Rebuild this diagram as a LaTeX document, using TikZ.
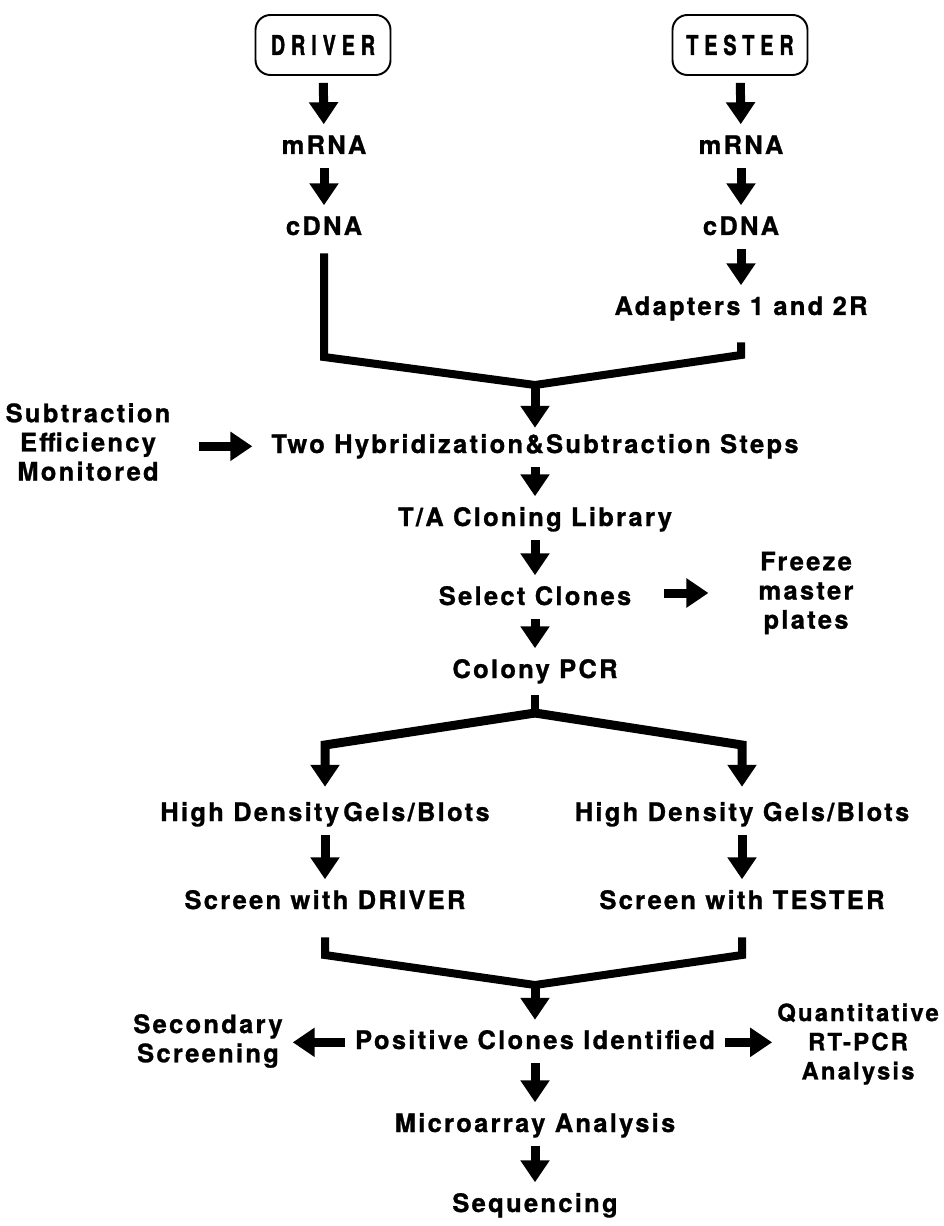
\documentclass[tikz,border=0pt]{standalone}
\usepackage{fontspec}
\newfontfamily\flowfont{TeX Gyre Heros}[LetterSpace=9, BoldFeatures={FakeBold=1}]
\newfontfamily\srcfont{TeX Gyre Heros}[LetterSpace=22, FakeStretch=0.72,
  BoldFeatures={FakeBold=1.5}]
\usetikzlibrary{arrows.meta}

\begin{document}
\begin{tikzpicture}[x=0.2mm, y=-0.2mm,
    font=\flowfont\bfseries\fontsize{14.5}{16.6}\selectfont,
    lbl/.style={inner sep=1pt, anchor=base, text height=10.6pt, text depth=3pt},
    blk/.style={inner sep=1pt, align=center},
    src/.style={draw, line width=1.1pt, rounded corners=3mm, minimum width=27mm,
      minimum height=12mm, font=\srcfont\bfseries\fontsize{15.5}{18}\selectfont},
    fat/.style={line width=1.8mm, -{Triangle[width=5.6mm,length=4.4mm]}},
    gap/.style={shorten <=1.4mm, shorten >=1.8mm},
    bar/.style={line width=1.6mm, line join=miter}]
    \useasboundingbox (0,0) rectangle (943,1226);
    % the two sources
    \node[src] (drv) at (323,45) {DRIVER};
    \node[src] (tst) at (740,45) {TESTER};
    \node[lbl] (dm) at (324,154) {mRNA};
    \node[lbl] (dc) at (324,235) {cDNA};
    \node[lbl] (tm) at (741,154) {mRNA};
    \node[lbl] (tc) at (741,235) {cDNA};
    \node[lbl] (adp) at (741,315) {Adapters 1 and 2R};
    \draw[fat, gap] (drv) -- (dm);
    \draw[fat, gap] (dm) -- (dc);
    \draw[fat, gap] (tst) -- (tm);
    \draw[fat, gap] (tm) -- (tc);
    \draw[fat, gap] (tc) -- (adp);
    % first merge
    \coordinate (ml) at (324,357);
    \coordinate (mj) at (535,385);
    \coordinate (mr) at (741,355);
    \draw[bar, shorten <=2.2mm, shorten >=4mm] (dc) -- (ml) -- (mj) -- (mr) -- (adp);
    % subtraction and cloning
    \node[lbl] (hyb) at (535,453) {Two Hybridization\&Subtraction Steps};
    \node[blk] (eff) at (88,442) {Subtraction\\Efficiency\\Monitored};
    \node[lbl] (tal) at (535,526) {T/A Cloning Library};
    \node[lbl] (sel) at (535,605) {Select Clones};
    \node[blk] (frz) at (806,593) {Freeze\\master\\plates};
    \node[lbl] (col) at (535,678) {Colony PCR};
    \draw[fat, shorten >=0.9mm] (mj) -- (hyb);
    \draw[fat, shorten <=5.4mm, shorten >=3.4mm] (hyb -| eff.east) -- (hyb);
    \draw[fat, gap] (hyb) -- (tal);
    \draw[fat, gap] (tal) -- (sel);
    \draw[fat, shorten <=6.2mm, shorten >=9.6mm] (frz -| sel.east) -- (frz);
    \draw[fat, gap] (sel) -- (col);
    % split into the two screens
    \coordinate (sp) at (535,713);
    \coordinate (sl) at (325,745);
    \coordinate (sr) at (742,745);
    \node[lbl] (hdl) at (325,821) {High Density\,Gels/Blots};
    \node[lbl] (hdr) at (742,821) {High Density Gels/Blots};
    \node[lbl] (scd) at (325,909) {Screen with DRIVER};
    \node[lbl] (sct) at (742,909) {Screen with TESTER};
    \draw[bar, shorten <=2mm] (col) -- (sp);
    \draw[fat, shorten >=2.7mm] (sp) -- (sl) -- (hdl);
    \draw[fat, shorten >=2.7mm] (sp) -- (sr) -- (hdr);
    \draw[fat, gap] (hdl) -- (scd);
    \draw[fat, gap] (hdr) -- (sct);
    % second merge
    \coordinate (ml2) at (325,955);
    \coordinate (mj2) at (535,985);
    \coordinate (mr2) at (742,955);
    \draw[bar, shorten <=4.2mm, shorten >=4.2mm] (scd) -- (ml2) -- (mj2) -- (mr2) -- (sct);
    % results
    \node[lbl] (pos) at (535,1049) {Positive Clones Identified};
    \node[blk] (sec) at (208,1041) {Secondary\\Screening};
    \node[blk, font=\flowfont\bfseries\fontsize{13.6}{16.6}\selectfont]
      (qnt) at (858,1044) {Quantitative\\RT-PCR\\Analysis};
    \node[lbl] (mic) at (535,1132) {Microarray Analysis};
    \node[lbl] (seq) at (535,1212) {Sequencing};
    \draw[fat, shorten >=1.7mm] (mj2) -- (pos);
    \draw[fat, shorten <=1.6mm, shorten >=1.6mm] (pos) -- (pos -| sec.east);
    \draw[fat, shorten <=1.6mm, shorten >=0.6mm] (pos) -- (pos -| qnt.west);
    \draw[fat, gap] (pos) -- (mic);
    \draw[fat, gap] (mic) -- (seq);
\end{tikzpicture}
\end{document}
